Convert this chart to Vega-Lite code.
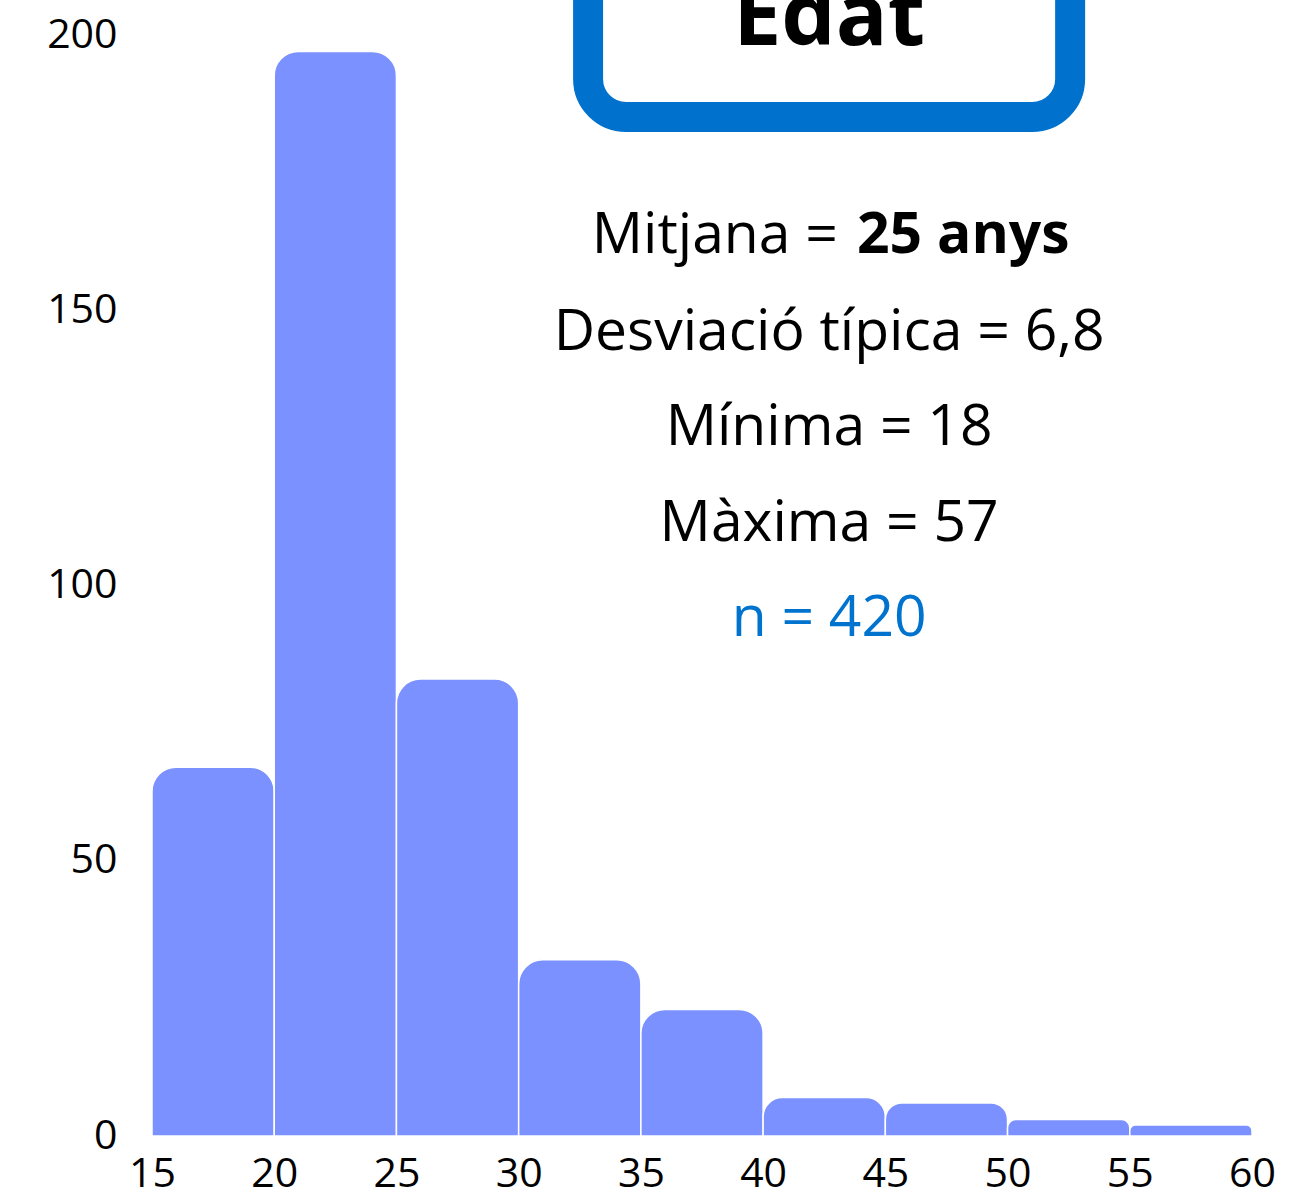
{
  "$schema": "https://vega.github.io/schema/vega-lite/v6.json",
  "autosize": {"type": "none"},
  "width": 1100,
  "height": 1101,
  "padding": {"left": 152, "top": 35, "right": 54, "bottom": 59},
  "background": "white",
  "config": {
    "view": {"stroke": null},
    "font": "Open Sans",
    "axis": {"domain": false, "ticks": false, "grid": false, "labelFont": "Open Sans", "labelFontSize": 41, "labelColor": "#000000", "title": null}
  },
  "datasets": {
    "hist": [
      {"start": 15, "end": 20, "count": 67},
      {"start": 20, "end": 25, "count": 197},
      {"start": 25, "end": 30, "count": 83},
      {"start": 30, "end": 35, "count": 32},
      {"start": 35, "end": 40, "count": 23},
      {"start": 40, "end": 45, "count": 7},
      {"start": 45, "end": 50, "count": 6},
      {"start": 50, "end": 55, "count": 3},
      {"start": 55, "end": 60, "count": 2}
    ],
    "box": [{"x": 32.84, "x2": 52.56, "y": 185.1, "y2": 217.3}],
    "heading": [{"x": 42.7, "y": 198.2, "label": "Edat"}],
    "lines": [
      {"x": 42.7, "y": 142.8, "label": "Desviació típica = 6,8", "color": "black"},
      {"x": 42.7, "y": 125.5, "label": "Mínima = 18", "color": "black"},
      {"x": 42.7, "y": 108.1, "label": "Màxima = 57", "color": "black"},
      {"x": 42.7, "y": 90.8, "label": "n = 420", "color": "blue"}
    ],
    "meanLeft": [{"x": 43.06, "y": 160.4, "label": "Mitjana ="}],
    "meanRight": [{"x": 43.84, "y": 160.4, "label": "25 anys"}]
  },
  "layer": [
    {
      "data": {"name": "hist"},
      "mark": {"type": "bar", "fill": "#7B91FF", "stroke": "white", "strokeWidth": 1.5, "cornerRadiusTopLeft": 24, "cornerRadiusTopRight": 24},
      "encoding": {
        "x": {"field": "start", "type": "quantitative", "scale": {"domain": [15, 60], "nice": false, "zero": false, "padding": 0}, "axis": {"values": [15, 20, 25, 30, 35, 40, 45, 50, 55, 60], "labelPadding": 18, "labelFlush": false, "labelOverlap": false}},
        "x2": {"field": "end"},
        "y": {"field": "count", "type": "quantitative", "scale": {"domain": [0, 200], "nice": false, "padding": 0}, "axis": {"values": [0, 50, 100, 150, 200], "labelPadding": 35, "labelFlush": false}},
        "y2": {"datum": 0}
      }
    },
    {
      "data": {"name": "box"},
      "mark": {"type": "rect", "fill": "white", "stroke": "#0072CE", "strokeWidth": 30, "cornerRadius": 38},
      "encoding": {
        "x": {"field": "x", "type": "quantitative"},
        "x2": {"field": "x2"},
        "y": {"field": "y", "type": "quantitative"},
        "y2": {"field": "y2"}
      }
    },
    {
      "data": {"name": "heading"},
      "mark": {"type": "text", "fontSize": 86, "fontWeight": "bold", "baseline": "alphabetic", "align": "center", "color": "black"},
      "encoding": {
        "x": {"field": "x", "type": "quantitative"},
        "y": {"field": "y", "type": "quantitative"},
        "text": {"field": "label"}
      }
    },
    {
      "data": {"name": "lines"},
      "mark": {"type": "text", "fontSize": 57, "baseline": "alphabetic", "align": "center"},
      "encoding": {
        "x": {"field": "x", "type": "quantitative"},
        "y": {"field": "y", "type": "quantitative"},
        "text": {"field": "label"},
        "color": {"field": "color", "type": "nominal", "scale": {"domain": ["black", "blue"], "range": ["#000000", "#0073CF"]}, "legend": null}
      }
    },
    {
      "data": {"name": "meanLeft"},
      "mark": {"type": "text", "fontSize": 57, "baseline": "alphabetic", "align": "right", "color": "black"},
      "encoding": {
        "x": {"field": "x", "type": "quantitative"},
        "y": {"field": "y", "type": "quantitative"},
        "text": {"field": "label"}
      }
    },
    {
      "data": {"name": "meanRight"},
      "mark": {"type": "text", "fontSize": 57, "fontWeight": "bold", "baseline": "alphabetic", "align": "left", "color": "black"},
      "encoding": {
        "x": {"field": "x", "type": "quantitative"},
        "y": {"field": "y", "type": "quantitative"},
        "text": {"field": "label"}
      }
    }
  ]
}
